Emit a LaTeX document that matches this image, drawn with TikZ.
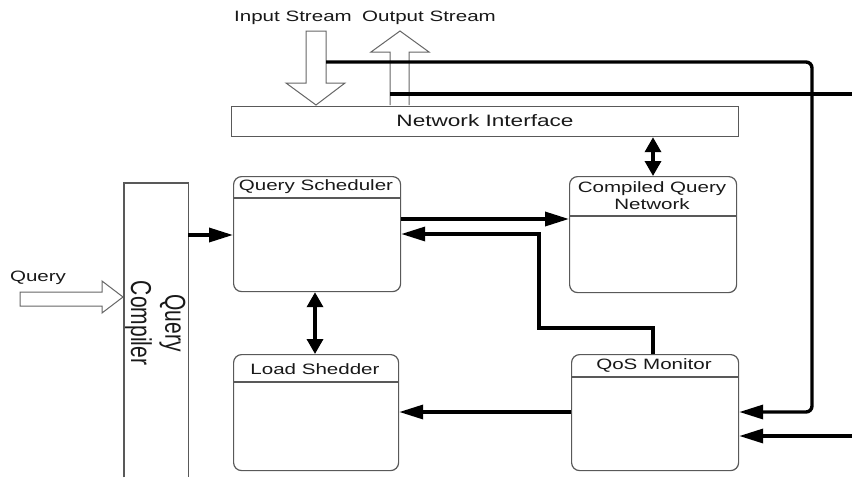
\documentclass[tikz,border=0pt]{standalone}
\usepackage{graphicx}
\usepackage{fontspec}
\setmainfont{Liberation Sans}
\newfontfamily\wfont[FakeStretch=1.37]{Liberation Sans}
\usetikzlibrary{arrows.meta}
\begin{document}
\begin{tikzpicture}[x=1pt,y=-1pt,
  box/.style={draw=black!65, line width=1.2pt, rounded corners=8pt, inner sep=0pt},
  plainbox/.style={draw=black!65, line width=1.2pt, inner sep=0pt},
  boxline/.style={draw=black!65, line width=1.2pt},
  hollow/.style={draw=black!60, line width=1pt, fill=white, line join=miter},
  lbl/.style={font=\wfont\fontsize{15}{17}\selectfont, text=black!90, inner sep=0pt},
  conn/.style={line width=3.4pt, line join=miter},
  harr/.style={-{Triangle[length=24pt,width=14pt]}},
  varr/.style={{Triangle[length=15pt,width=16pt]}-{Triangle[length=15pt,width=16pt]}}
]
\useasboundingbox (0,0) rectangle (852,477);
\fill[white] (0,0) rectangle (852,477);

% hollow stream arrows
\draw[hollow] (306,31) -- (326,31) -- (326,83) -- (345,83) -- (316,105) -- (286,83) -- (306,83) -- cycle;
\draw[hollow] (390,105) -- (390,52) -- (371,52) -- (400,31) -- (429,52) -- (409,52) -- (409,105);
\draw[hollow] (20,292) -- (102,292) -- (102,281) -- (123,297) -- (102,313) -- (102,306) -- (20,306) -- cycle;

\node[lbl] (instr) at (293,18) {Input Stream};
\node[lbl] (outstr) at (429,18) {Output Stream};
\node[lbl] (qlbl) at (38,278) {Query};

% network interface
\node[plainbox, minimum width=507pt, minimum height=30pt, anchor=north west] (ni) at (231,106) {};
\node[lbl, font=\wfont\fontsize{16.5}{18}\selectfont] (nit) at (485,121) {Network Interface};

% query compiler (open at the bottom edge)
\node[minimum width=64pt, minimum height=294pt, anchor=north west, inner sep=0pt] (qc) at (124,183) {};
\draw[boxline] (qc.south west) -- (qc.north west) -- (qc.north east) -- (qc.south east);
\node[rotate=-90, inner sep=0pt, text=black!90, font=\fontsize{21}{25}\selectfont] (qct) at (155,323)
  {\scalebox{1}[1.37]{\begin{tabular}{@{}c@{}}Query\\Compiler\end{tabular}}};

% query scheduler
\node[box, minimum width=167pt, minimum height=115pt, anchor=north west] (qs) at (233,176) {};
\draw[boxline] (qs.west |- 0,198) -- (qs.east |- 0,198);
\node[lbl] (qst) at (316,187) {Query Scheduler};

% load shedder
\node[box, minimum width=165pt, minimum height=116pt, anchor=north west] (ls) at (233,354) {};
\draw[boxline] (ls.west |- 0,382) -- (ls.east |- 0,382);
\node[lbl] (lst) at (315,369) {Load Shedder};

% compiled query network
\node[box, minimum width=167pt, minimum height=116pt, anchor=north west] (cqn) at (569,176) {};
\draw[boxline] (cqn.west |- 0,216) -- (cqn.east |- 0,216);
\node[lbl, align=center] (cqnt) at (652,195.5) {Compiled Query\\[0pt]Network};

% qos monitor
\node[box, minimum width=167pt, minimum height=116pt, anchor=north west] (qos) at (571,354) {};
\draw[boxline] (qos.west |- 0,377) -- (qos.east |- 0,377);
\node[lbl] (qost) at (654,365) {QoS Monitor};

% connectors
\coordinate (s1) at (326,62);
\coordinate (s2) at (390,94);
\coordinate (e2) at (852,94);
\coordinate (e3) at (852,436);

\draw[conn, harr] (qc.east |- 0,235) -- (qs.west |- 0,235);
\draw[conn, harr] (qs.east |- 0,219) -- (cqn.west |- 0,219);
\draw[conn, harr] (qos.north -| 653,0) -- (653,328) -- (539,328) -- (539,234) -- (qs.east |- 0,234);
\draw[conn, harr] (qos.west |- 0,412) -- (ls.east |- 0,412);
\draw[conn, varr] (ni.south -| 653,0) -- (cqn.north -| 653,0);
\draw[conn, varr] (qs.south -| 315,0) -- (ls.north -| 315,0);
\draw[conn, harr, rounded corners=6pt] (s1) -- (812,62) -- (812,412) -- (qos.east |- 0,412);
\draw[conn] (s2) -- (e2);
\draw[conn, harr] (e3) -- (qos.east |- 0,436);
\end{tikzpicture}
\end{document}
